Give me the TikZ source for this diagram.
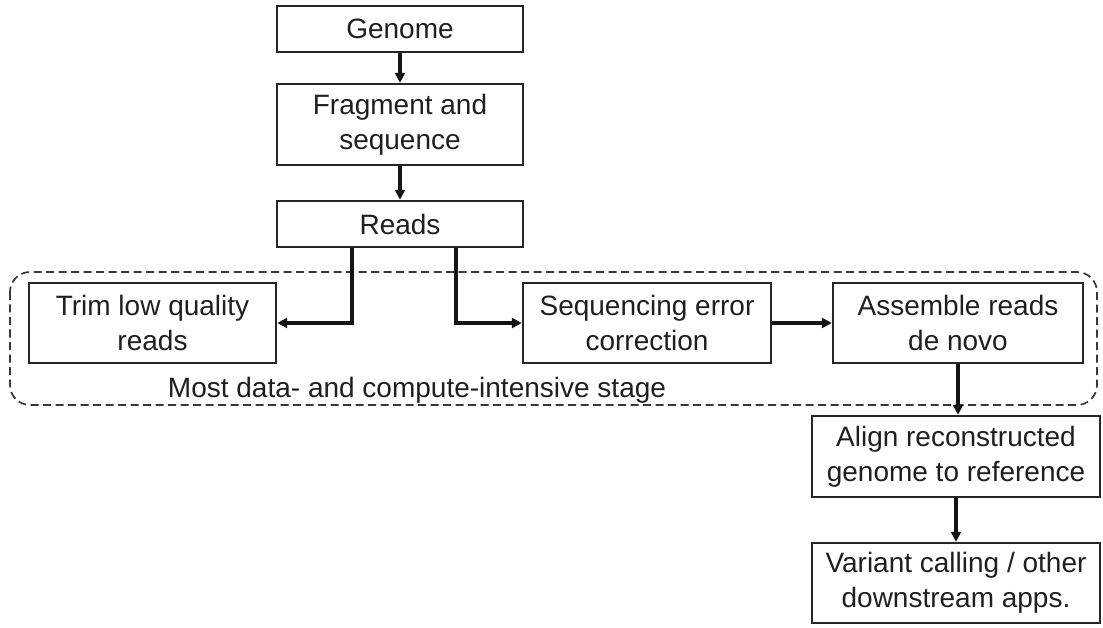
\documentclass[tikz,border=0pt]{standalone}
\usepackage{fontspec}
\setmainfont{Liberation Sans}
\usetikzlibrary{arrows.meta}
\begin{document}
\begin{tikzpicture}[x=1pt,y=-1pt,
  box/.style={draw=black!85, line width=2.4pt, inner sep=0pt, align=center,
    font=\fontsize{28}{35}\selectfont, text=black!88},
  arr/.style={draw=black!92, line width=3.4pt, -{Triangle[length=10pt,width=10pt]}},
  stagebox/.style={draw=black!78, line width=1.7pt, dash pattern=on 8pt off 4.5pt, rounded corners=20pt}]
\useasboundingbox (0,0) rectangle (1103,628);

% stage enclosure
\draw[stagebox] (10,272) rectangle (1097,405);
\node[anchor=base, font=\fontsize{28}{35}\selectfont, text=black!88, inner sep=0pt] (stagelabel) at (417,397)
  {Most data- and compute-intensive stage};

% pipeline boxes
\node[box, minimum width=246pt, minimum height=46pt] (genome) at (400,29) {Genome};
\node[box, minimum width=246pt, minimum height=81pt] (frag) at (400,124.5) {Fragment and\\sequence};
\node[box, minimum width=246pt, minimum height=46pt] (reads) at (400,224) {Reads};
\node[box, minimum width=247pt, minimum height=80pt] (trim) at (152.5,323) {Trim low quality\\reads};
\node[box, minimum width=248pt, minimum height=80pt] (seqerr) at (647,323) {Sequencing error\\correction};
\node[box, minimum width=250pt, minimum height=80pt] (assemble) at (958,323) {Assemble reads\\de novo};
\node[box, minimum width=288pt, minimum height=81pt] (align) at (956,456.5) {Align reconstructed\\genome to reference};
\node[box, minimum width=288pt, minimum height=80pt] (variant) at (956,583) {Variant calling / other\\downstream apps.};

% connectors
\draw[arr] (genome.south) -- (frag.north);
\draw[arr] (frag.south) -- (reads.north);
\draw[arr] ([xshift=-48pt]reads.south) |- (trim.east);
\draw[arr] ([xshift=56pt]reads.south) |- (seqerr.west);
\draw[arr] (seqerr.east) -- (assemble.west);
\draw[arr] (assemble.south) -- (assemble.south |- align.north);
\draw[arr] (align.south) -- (variant.north);
\end{tikzpicture}
\end{document}
